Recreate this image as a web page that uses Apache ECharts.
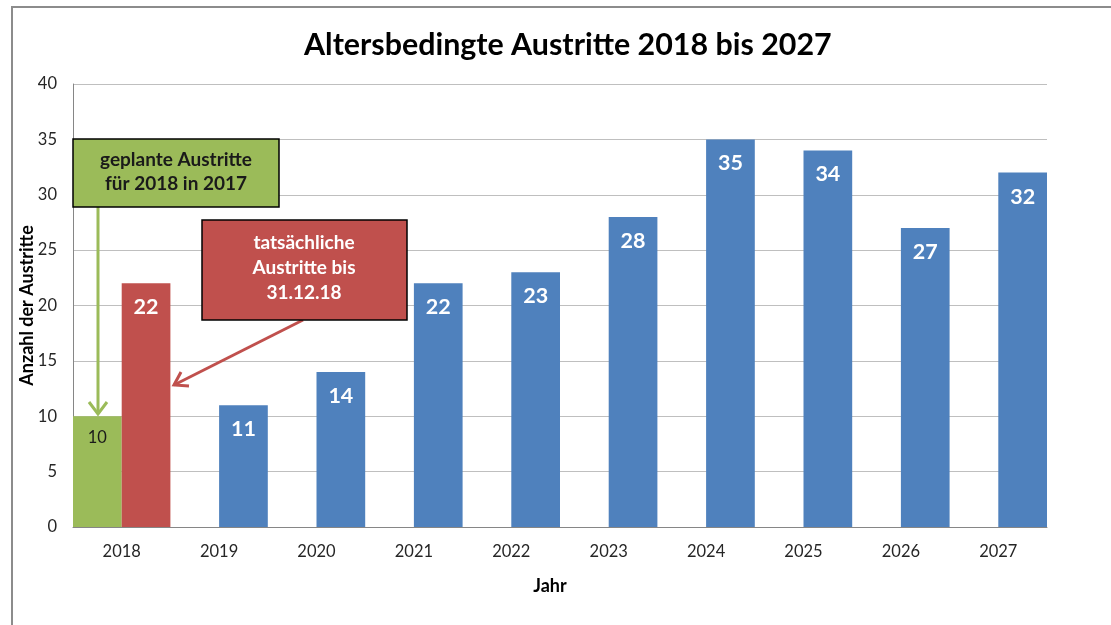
<!DOCTYPE html>
<html>
<head>
<meta charset="UTF-8">
<title>Altersbedingte Austritte</title>
<script src="https://cdn.jsdelivr.net/npm/echarts@6/dist/echarts.min.js"></script>
<style>
	html, body { margin: 0; padding: 0; background: #fff; }
	#charts { width: 1111px; height: 625px; }
</style>
</head>
<body>
<div id="charts"></div>
<script type="text/javascript">

	var years = ['2018', '2019', '2020', '2021', '2022', '2023', '2024', '2025', '2026', '2027'];
	var planned = [10, '-', '-', '-', '-', '-', '-', '-', '-', '-'];
	var actual = [22, 11, 14, 22, 23, 28, 35, 34, 27, 32];

	var FONT = 'Lato';
	var chart = echarts.init(document.getElementById('charts'));

	// first bar of the actual series is red, all others blue
	var actualData = actual.map(function (v, i) {
		return { value: v, itemStyle: { color: i === 0 ? '#c0504d' : '#4f81bd' } };
	});

	var option = {
		backgroundColor: '#fff',
		animation: false,
		title: {
			text: 'Altersbedingte Austritte 2018 bis 2027',
			left: 299,
			top: 25,
			textStyle: { fontFamily: FONT, fontSize: 30.4, fontWeight: 'bold', color: '#000' }
		},
		grid: { left: 73, right: 64, top: 84, bottom: 98 },
		xAxis: {
			type: 'category',
			data: years,
			name: 'Jahr',
			nameLocation: 'middle',
			nameGap: 50,
			nameMoveOverlap: false,
			nameTextStyle: { fontFamily: FONT, fontSize: 18, fontWeight: 'bold', color: '#000', padding: [0, 20, 0, 0] },
			axisLine: { lineStyle: { color: '#868686', width: 1 } },
			axisTick: { show: false },
			axisLabel: { fontFamily: FONT, fontSize: 16.5, color: '#262626', margin: 16 }
		},
		yAxis: {
			type: 'value',
			min: 0,
			max: 40,
			interval: 5,
			name: 'Anzahl der Austritte',
			nameLocation: 'middle',
			nameGap: 37,
			nameMoveOverlap: false,
			nameTextStyle: { fontFamily: FONT, fontSize: 18, fontWeight: 'bold', color: '#000' },
			axisLine: { show: true, lineStyle: { color: '#868686', width: 1 } },
			axisTick: { show: false },
			splitLine: { lineStyle: { color: '#bfbfbf', width: 1 } },
			axisLabel: { fontFamily: FONT, fontSize: 16.5, color: '#262626', margin: 16 }
		},
		series: [{
			name: 'geplant',
			type: 'bar',
			data: planned,
			barGap: '0%',
			barCategoryGap: '0%',
			itemStyle: { color: '#9bbb59' },
			label: {
				show: true,
				position: 'insideTop',
				distance: 13,
				fontFamily: FONT,
				fontSize: 16.5,
				color: '#1a1a1a'
			}
		}, {
			name: 'tatsaechlich',
			type: 'bar',
			data: actualData,
			barGap: '0%',
			barCategoryGap: '0%',
			label: {
				show: true,
				position: 'insideTop',
				distance: 13,
				fontFamily: FONT,
				fontSize: 21.5,
				fontWeight: 'bold',
				color: '#fff'
			}
		}],
		graphic: [
			// outer chart frame
			{ type: 'rect', shape: { x: 12, y: 7, width: 1120, height: 640 }, style: { fill: 'none', stroke: '#8c8c8c', lineWidth: 2 }, silent: true },
			// green callout
			{ type: 'line', shape: { x1: 98, y1: 207, x2: 98, y2: 414 }, style: { stroke: '#9bbb59', lineWidth: 3 }, z: 10 },
			{ type: 'polyline', shape: { points: [[89, 402], [98, 414], [107, 402]] }, style: { stroke: '#9bbb59', lineWidth: 3, fill: 'none' }, z: 10 },
			{ type: 'rect', shape: { x: 73, y: 139, width: 206, height: 68 }, z: 11, style: { fill: '#9bbb59', stroke: '#000', lineWidth: 1.5 } },
			{
				type: 'text', x: 176, y: 172, z: 12,
				style: { text: 'geplante Austritte\nfür 2018 in 2017', fontFamily: FONT, fontSize: 19, fontWeight: 'bold', fill: '#1a1a1a', lineHeight: 24, align: 'center', verticalAlign: 'middle' }
			},
			// red callout
			{ type: 'line', shape: { x1: 303, y1: 320, x2: 174, y2: 385 }, style: { stroke: '#c0504d', lineWidth: 3 }, z: 10 },
			{ type: 'polyline', shape: { points: [[181, 372], [174, 385], [189, 386]] }, style: { stroke: '#c0504d', lineWidth: 3, fill: 'none' }, z: 10 },
			{ type: 'rect', shape: { x: 202, y: 220, width: 205, height: 100 }, z: 11, style: { fill: '#c0504d', stroke: '#000', lineWidth: 1.5 } },
			{
				type: 'text', x: 304, y: 268, z: 12,
				style: { text: 'tatsächliche\nAustritte bis\n31.12.18', fontFamily: FONT, fontSize: 19, fontWeight: 'bold', fill: '#fff', lineHeight: 25, align: 'center', verticalAlign: 'middle' }
			}
		]
	};

	chart.setOption(option);
</script>
</body>
</html>
